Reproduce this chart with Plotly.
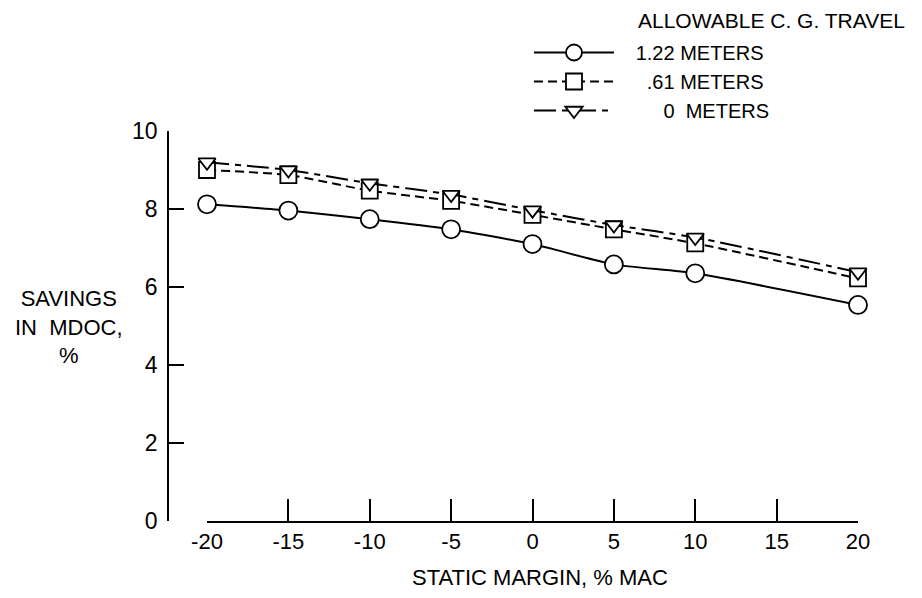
import plotly.graph_objects as go

# ---- data ----
static_margin = [-20, -15, -10, -5, 0, 5, 10, 20]
savings_122 = [8.12, 7.96, 7.74, 7.48, 7.10, 6.58, 6.35, 5.54]
savings_061 = [9.00, 8.87, 8.47, 8.21, 7.85, 7.48, 7.12, 6.22]
savings_000 = [9.20, 9.00, 8.66, 8.37, 7.97, 7.59, 7.27, 6.38]
series_names = ["1.22 METERS", "\u00a0\u00a0.61 METERS", "\u00a0\u00a0\u00a0\u00a0\u00a00\u00a0\u00a0METERS"]
x_ticks = [-20, -15, -10, -5, 0, 5, 10, 15, 20]
y_ticks = [0, 2, 4, 6, 8, 10]

FONT = "Liberation Sans, Arial, sans-serif"

# page has an 8px body margin; reference pixel coords are converted below
OFF = 8
W, H = 922 - 2 * OFF, 598 - 2 * OFF
L, R, T = 150 - OFF, W - (858 - OFF), 131 - OFF
B = H - (521 - OFF)
pw, ph = W - L - R, H - T - B


def fx(ref_x):
    return (ref_x - OFF - L) / pw


def fy(ref_y):
    return ((521 - OFF) - (ref_y - OFF)) / ph


fig = go.Figure()
styles = [
    (savings_122, "solid", "circle", 18),
    (savings_061, "9px,5px", "square", 16),
    (savings_000, "22px,6px,6px,6px", "triangle-down", 15),
]
PAD = "\u00a0\u00a0\u00a0"
for (vals, dash, sym, sz), name in zip(styles, series_names):
    fig.add_trace(go.Scatter(
        x=static_margin, y=vals, name=PAD + name, mode="lines+markers",
        line=dict(color="black", width=2, dash=dash, shape="spline", smoothing=0.6),
        marker=dict(symbol=sym, size=sz, color="white", line=dict(color="black", width=1.8)),
        cliponaxis=False,
    ))

fig.update_layout(
    width=W, height=H,
    margin=dict(l=L, r=R, t=T, b=B),
    paper_bgcolor="white", plot_bgcolor="white",
    font=dict(family=FONT, size=22, color="black"),
    xaxis=dict(
        range=[-20, 20], domain=[fx(207), 1],
        tickvals=x_ticks, ticktext=[str(v) for v in x_ticks],
        ticks="inside", ticklen=22, tickwidth=1.5, tickcolor="black",
        showline=True, linecolor="black", linewidth=1.8,
        showgrid=False, zeroline=False, ticklabelstandoff=0,
        tickfont=dict(size=22),
    ),
    yaxis=dict(
        range=[0, 10], anchor="free", position=fx(168),
        tickvals=y_ticks, ticks="inside", ticklen=15, tickwidth=1.5, tickcolor="black",
        showline=True, linecolor="black", linewidth=1.8,
        showgrid=False, zeroline=False, ticklabelstandoff=5,
        tickfont=dict(size=23),
    ),
    legend=dict(
        x=fx(529), xanchor="left", y=fy(33), yanchor="top",
        bgcolor="rgba(0,0,0,0)", font=dict(size=20), tracegroupgap=0,
        itemwidth=80,
    ),
    showlegend=True,
)

fig.add_annotation(text="ALLOWABLE C. G. TRAVEL", xref="paper", yref="paper",
                   x=fx(636), y=fy(21), xanchor="left", yanchor="middle",
                   showarrow=False, font=dict(size=21))
fig.add_annotation(text="SAVINGS<br>IN  MDOC,<br>%", xref="paper", yref="paper",
                   x=fx(69), y=fy(327), xanchor="center", yanchor="middle",
                   align="center", showarrow=False, font=dict(size=22))
fig.add_annotation(text="STATIC MARGIN, % MAC", xref="paper", yref="paper",
                   x=fx(540), y=fy(577), xanchor="center", yanchor="middle",
                   showarrow=False, font=dict(size=22))

fig.write_html("out.html")
